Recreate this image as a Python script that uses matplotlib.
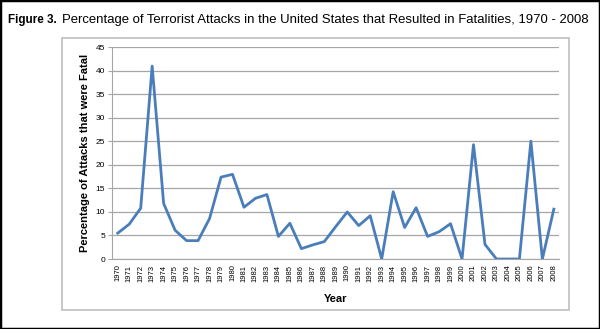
import matplotlib
matplotlib.use("Agg")
import matplotlib.pyplot as plt
from matplotlib.patches import Rectangle

years = list(range(1970, 2009))
pct_fatal = [5.5, 7.4, 10.8, 41.0, 11.8, 6.1, 3.9, 3.9, 8.6, 17.4,
             18.0, 11.0, 12.9, 13.7, 4.8, 7.6, 2.2, 3.0, 3.7, 6.9,
             10.0, 7.1, 9.2, 0.0, 14.3, 6.7, 10.9, 4.8, 5.8, 7.5,
             0.0, 24.3, 3.1, 0.0, 0.0, 0.0, 25.05, 0.0, 10.6]
y_ticks = [0, 5, 10, 15, 20, 25, 30, 35, 40, 45]
x_labels = [str(y) for y in years]

W, H = 600, 329
fig = plt.figure(figsize=(6, 3.29), dpi=100)
fam = ['Liberation Sans', 'DejaVu Sans']

# outer black frame
fig.patches.append(Rectangle((0, 0), 1, 1, transform=fig.transFigure,
                             fill=False, edgecolor='black', linewidth=2.5))
# chart box
x0, y0, x1, y1 = 62, 38, 569, 310
fig.patches.append(Rectangle((x0 / W, 1 - y1 / H), (x1 - x0) / W, (y1 - y0) / H,
                             transform=fig.transFigure, fill=False,
                             edgecolor='#bfbfbf', linewidth=1.2))

renderer = fig.canvas.get_renderer()


def fit_text(x_left, x_right, y, s, weight, base=10.0):
    t = fig.text(x_left / W, 1 - y / H, s, fontsize=base, fontweight=weight,
                 family=fam, va='center', ha='left')
    w = t.get_window_extent(renderer).width
    t.set_fontsize(base * (x_right - x_left) / w)
    return t


fit_text(8, 57, 20, "Figure 3.", 'bold')
fit_text(62, 590, 20,
         "Percentage of Terrorist Attacks in the United States that Resulted in Fatalities, 1970 - 2008",
         'normal')

# axes: left at x=112, right 559, top y=47 (45), bottom y=259 (0)
ax_l, ax_r, ax_t, ax_b = 112, 559, 47.3, 259
ax = fig.add_axes([ax_l / W, 1 - ax_b / H, (ax_r - ax_l) / W, (ax_b - ax_t) / H])
ax.plot(years, pct_fatal, color='#4a7ebb', linewidth=2)
ax.set_ylim(0, 45)
ax.set_xlim(1969.5, 2008.45)
ax.set_yticks(y_ticks)
ax.set_xticks(years)
ax.set_xticklabels(x_labels, rotation=90, fontsize=5.5, family=fam)
for lbl in ax.get_yticklabels():
    lbl.set_fontsize(6)
    lbl.set_family(fam)
ax.grid(axis='y', color='#a6a6a6', linewidth=0.9)
ax.set_axisbelow(True)
for s in ['top', 'right']:
    ax.spines[s].set_visible(False)
ax.spines['left'].set_color('#a6a6a6')
ax.spines['bottom'].set_color('#a6a6a6')
ax.tick_params(axis='both', length=3, color='#a6a6a6', pad=2)
ax.tick_params(axis='x', length=0, pad=4)
ax.set_ylabel("Percentage of Attacks that were Fatal", fontsize=8,
              fontweight='bold', family=fam, labelpad=4)
ax.set_xlabel("Year", fontsize=8, fontweight='bold', family=fam, labelpad=9)

fig.savefig("out.png", dpi=100)
